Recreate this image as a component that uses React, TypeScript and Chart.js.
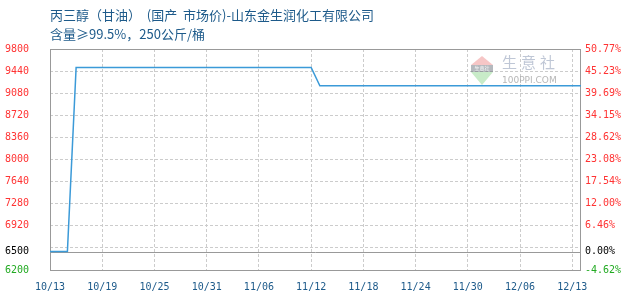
import { useEffect, useRef } from 'react';
import { Chart, registerables } from 'chart.js';

Chart.register(...registerables);

// Heading lines
const titleLine1 = '丙三醇（甘油）  (国产  市场价)-山东金生润化工有限公司';
const titleLine2 = '含量≥99.5%，250公斤/桶';

// Price scale (元/吨) and reference price for the percentage axis
const BASE_PRICE = 6500;
const PRICE_MIN = 6200;
const PRICE_MAX = 9800;
const priceTicks = [6200, 6500, 6560, 6920, 7280, 7640, 8000, 8360, 8720, 9080, 9440, 9800];
const unlabeledTicks = [6560];

// Date axis: day index from 10/13 and the labelled days
const DAY_MAX = 61;
const dateTickIndex = [0, 6, 12, 18, 24, 30, 36, 42, 48, 54, 60];
const dateLabels = ['10/13', '10/19', '10/25', '10/31', '11/06', '11/12', '11/18', '11/24', '11/30', '12/06', '12/13'];

// Daily price, one value per day index
const dailyPrices = [
  6500, 6500, 6500, 9500, 9500, 9500, 9500, 9500, 9500, 9500,
  9500, 9500, 9500, 9500, 9500, 9500, 9500, 9500, 9500, 9500,
  9500, 9500, 9500, 9500, 9500, 9500, 9500, 9500, 9500, 9500,
  9500, 9200, 9200, 9200, 9200, 9200, 9200, 9200, 9200, 9200,
  9200, 9200, 9200, 9200, 9200, 9200, 9200, 9200, 9200, 9200,
  9200, 9200, 9200, 9200, 9200, 9200, 9200, 9200, 9200, 9200,
  9200, 9200,
];

const TICK_FONT = { family: '"DejaVu Sans Mono", monospace', size: 10 };
const GRID_COLOR = '#cccccc';
const FRAME_COLOR = '#999999';

const tickColor = (ctx: any) => {
  const v = ctx.tick ? ctx.tick.value : 0;
  if (v === BASE_PRICE) return '#000000';
  if (v < BASE_PRICE) return '#22aa22';
  return '#ff3333';
};

const setPriceTicks = (scale: any) => {
  scale.ticks = priceTicks.map((value) => ({ value }));
};

const framePlugin = {
  id: 'frame',
  beforeDatasetsDraw(chart: any) {
    const { ctx, chartArea } = chart;
    const { left, right, top, bottom } = chartArea;
    ctx.save();

    // 100PPI watermark
    const wx = 471;
    ctx.fillStyle = 'rgba(240,160,160,0.6)';
    ctx.beginPath();
    ctx.moveTo(wx, 65);
    ctx.lineTo(wx + 22, 65);
    ctx.lineTo(wx + 11, 56);
    ctx.closePath();
    ctx.fill();
    ctx.fillStyle = 'rgba(90,100,110,0.45)';
    ctx.fillRect(wx, 65, 22, 7);
    ctx.fillStyle = 'rgba(255,255,255,0.9)';
    ctx.font = '5px "Noto Sans CJK SC"';
    ctx.textBaseline = 'middle';
    ctx.textAlign = 'center';
    ctx.fillText('生意社', wx + 11, 68.5);
    ctx.fillStyle = 'rgba(170,225,170,0.65)';
    ctx.beginPath();
    ctx.moveTo(wx, 72);
    ctx.lineTo(wx + 22, 72);
    ctx.lineTo(wx + 11, 85);
    ctx.closePath();
    ctx.fill();
    ctx.fillStyle = 'rgba(170,180,200,0.75)';
    ctx.font = '15px "Noto Sans CJK SC"';
    ctx.textAlign = 'left';
    ['生', '意', '社'].forEach((ch, i) => ctx.fillText(ch, 502 + i * 19, 62.5));
    ctx.fillStyle = 'rgba(170,170,170,0.85)';
    ctx.font = '9px "DejaVu Sans"';
    ctx.fillText('100PPI.COM', 502, 80.5);

    // base price line
    const yBase = Math.round(chart.scales.y.getPixelForValue(BASE_PRICE)) + 0.5;
    ctx.strokeStyle = FRAME_COLOR;
    ctx.lineWidth = 1;
    ctx.beginPath();
    ctx.moveTo(left, yBase);
    ctx.lineTo(right, yBase);
    ctx.stroke();

    // plot frame
    ctx.strokeRect(left + 0.5, top + 0.5, right - left - 1, bottom - top);
    ctx.restore();
  },
  afterDraw(chart: any) {
    const { ctx } = chart;
    ctx.save();
    ctx.fillStyle = '#1d5a8a';
    ctx.font = '13px "Noto Sans CJK SC"';
    ctx.textBaseline = 'middle';
    ctx.textAlign = 'left';
    ctx.fillText(titleLine1, 50, 15);
    ctx.fillText(titleLine2, 50, 34);
    ctx.restore();
  },
};

export default function App() {
  const canvasRef = useRef<HTMLCanvasElement>(null);

  useEffect(() => {
    document.body.style.margin = '0';
    const canvas = canvasRef.current;
    if (!canvas) return;

    const chart = new Chart(canvas, {
      type: 'line',
      data: {
        datasets: [
          {
            data: dailyPrices.map((y, x) => ({ x, y })),
            borderColor: '#3b9ad8',
            borderWidth: 1.5,
            pointRadius: 0,
            fill: false,
            tension: 0,
            xAxisID: 'x',
            yAxisID: 'y',
          },
        ],
      },
      options: {
        responsive: false,
        animation: false,
        devicePixelRatio: 1,
        layout: { padding: { left: 5, right: 0, top: 49, bottom: 0 } },
        plugins: {
          legend: { display: false },
          tooltip: { enabled: false },
        },
        scales: {
          x: {
            type: 'linear',
            min: 0,
            max: DAY_MAX,
            afterBuildTicks: (scale: any) => {
              scale.ticks = dateTickIndex.map((value) => ({ value }));
            },
            afterFit: (scale: any) => {
              scale.height = 30;
            },
            ticks: {
              autoSkip: false,
              maxRotation: 0,
              padding: 11,
              color: '#1d5a8a',
              font: TICK_FONT,
              callback: (v: any) => {
                const i = dateTickIndex.indexOf(Number(v));
                return i >= 0 ? dateLabels[i] : '';
              },
            },
            grid: {
              drawTicks: false,
              color: (c: any) => (c.tick && c.tick.value === 0 ? 'rgba(0,0,0,0)' : GRID_COLOR),
            },
            border: { display: false, dash: [3, 2] },
          },
          y: {
            type: 'linear',
            position: 'left',
            min: PRICE_MIN,
            max: PRICE_MAX,
            afterBuildTicks: setPriceTicks,
            afterFit: (scale: any) => {
              scale.width = 45;
            },
            ticks: {
              autoSkip: false,
              crossAlign: 'far',
              color: tickColor,
              font: TICK_FONT,
              callback: (v: any) => (unlabeledTicks.includes(Number(v)) ? '' : String(v)),
            },
            grid: {
              drawTicks: false,
              color: (c: any) => {
                const v = c.tick ? c.tick.value : NaN;
                return v === BASE_PRICE || v === PRICE_MIN || v === PRICE_MAX ? 'rgba(0,0,0,0)' : GRID_COLOR;
              },
            },
            border: { display: false, dash: [3, 2] },
          },
          y1: {
            type: 'linear',
            position: 'right',
            min: PRICE_MIN,
            max: PRICE_MAX,
            afterBuildTicks: setPriceTicks,
            afterFit: (scale: any) => {
              scale.width = 49;
            },
            ticks: {
              autoSkip: false,
              padding: 4,
              color: tickColor,
              font: TICK_FONT,
              callback: (v: any) => {
                const n = Number(v);
                if (unlabeledTicks.includes(n)) return '';
                return (((n - BASE_PRICE) / BASE_PRICE) * 100).toFixed(2) + '%';
              },
            },
            grid: { display: false, drawTicks: false },
            border: { display: false },
          },
        },
      },
      plugins: [framePlugin],
    } as any);

    return () => chart.destroy();
  }, []);

  return (
    <div style={{ width: 630, height: 300 }}>
      <canvas ref={canvasRef} width={630} height={300} style={{ display: 'block' }} />
    </div>
  );
}
